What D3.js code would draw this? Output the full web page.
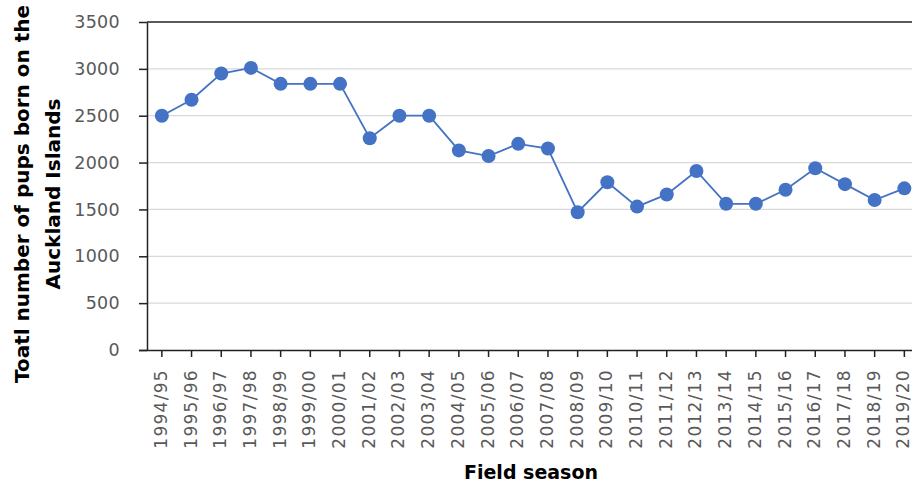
<!DOCTYPE html>
<html>
<head>
<meta charset="utf-8">
<script src="https://cdn.jsdelivr.net/npm/d3@7"></script>
<style>
  html, body { margin: 0; padding: 0; background: #fff; }
  svg { display: block; }
</style>
</head>
<body>
<svg id="chart" width="912" height="486"></svg>
<script>
const seasons = ["1994/95","1995/96","1996/97","1997/98","1998/99","1999/00","2000/01","2001/02","2002/03","2003/04","2004/05","2005/06","2006/07","2007/08","2008/09","2009/10","2010/11","2011/12","2012/13","2013/14","2014/15","2015/16","2016/17","2017/18","2018/19","2019/20"];
const pups = [2500,2670,2950,3010,2840,2840,2840,2260,2500,2500,2130,2070,2200,2150,1470,1790,1530,1660,1910,1560,1560,1710,1940,1770,1600,1725];
const yTicks = [0,500,1000,1500,2000,2500,3000,3500];
const xTitle = "Field season";
const yTitleLines = ["Toatl number of pups born on the", "Auckland Islands"];

const svg = d3.select("#chart");
const plotLeft = 147, plotTop = 22, plotBottom = 350, step = 29.7;

const x = d3.scaleBand().domain(seasons).range([plotLeft, plotLeft + seasons.length * step]).padding(0);
const y = d3.scaleLinear().domain([0, 3500]).range([plotBottom, plotTop]);

// gridlines
svg.append("g").selectAll("line").data(yTicks.filter(d => d > 0 && d < 3500)).join("line")
  .attr("x1", plotLeft).attr("x2", 912)
  .attr("y1", d => y(d)).attr("y2", d => y(d))
  .attr("stroke", "#d9d9d9").attr("stroke-width", 1.2);

// top line
svg.append("line").attr("x1", plotLeft).attr("x2", 912)
  .attr("y1", y(3500)).attr("y2", y(3500))
  .attr("stroke", "#222").attr("stroke-width", 1.5);

const tickFont = "'DejaVu Sans', sans-serif";

// y axis
const yAxis = svg.append("g").attr("transform", `translate(${plotLeft},0)`)
  .call(d3.axisLeft(y).tickValues(yTicks).tickFormat(d3.format("d")).tickSize(8).tickPadding(19).tickSizeOuter(0));
yAxis.select(".domain").attr("stroke", "#222").attr("stroke-width", 1.5);
yAxis.selectAll(".tick line").attr("stroke", "#222").attr("stroke-width", 1.5);
yAxis.selectAll("text").attr("fill", "#595959")
  .style("font-family", tickFont).style("font-size", "17.5px").style("letter-spacing", "0.3px");

// x axis
const xAxis = svg.append("g").attr("transform", `translate(0,${plotBottom})`)
  .call(d3.axisBottom(x).tickSize(7).tickSizeOuter(0));
xAxis.select(".domain").attr("d", `M${plotLeft - 8},0.5H912`).attr("stroke", "#222").attr("stroke-width", 1.5);
xAxis.selectAll(".tick line").attr("stroke", "#222").attr("stroke-width", 1.5);
xAxis.selectAll("text")
  .attr("transform", "rotate(-90)")
  .attr("text-anchor", "end")
  .attr("x", -19).attr("y", -1).attr("dy", "0.35em")
  .attr("fill", "#595959")
  .style("font-family", tickFont).style("font-size", "17px").style("letter-spacing", "1.3px");

// line
const cx = d => x(d) + x.bandwidth() / 2;
svg.append("path").datum(seasons.map((s, i) => [s, pups[i]]))
  .attr("fill", "none").attr("stroke", "#4472C4").attr("stroke-width", 1.8)
  .attr("d", d3.line().x(d => cx(d[0])).y(d => y(d[1])));

svg.append("g").selectAll("circle").data(seasons.map((s, i) => [s, pups[i]])).join("circle")
  .attr("cx", d => cx(d[0])).attr("cy", d => y(d[1])).attr("r", 7)
  .attr("fill", "#4472C4");

// titles
const titleFont = "'DejaVu Sans', sans-serif";
svg.append("text").attr("x", 531).attr("y", 479).attr("text-anchor", "middle")
  .style("font-family", titleFont).style("font-weight", "bold").style("font-size", "19px")
  .attr("fill", "#000").text(xTitle);

const yt = svg.append("text").attr("transform", "translate(0,194) rotate(-90)")
  .attr("text-anchor", "middle")
  .style("font-family", titleFont).style("font-weight", "bold").style("font-size", "20px")
  .attr("fill", "#000");
yt.append("tspan").attr("x", 0).attr("y", 29).text(yTitleLines[0]);
yt.append("tspan").attr("x", 0).attr("y", 60).text(yTitleLines[1]);
</script>
</body>
</html>
